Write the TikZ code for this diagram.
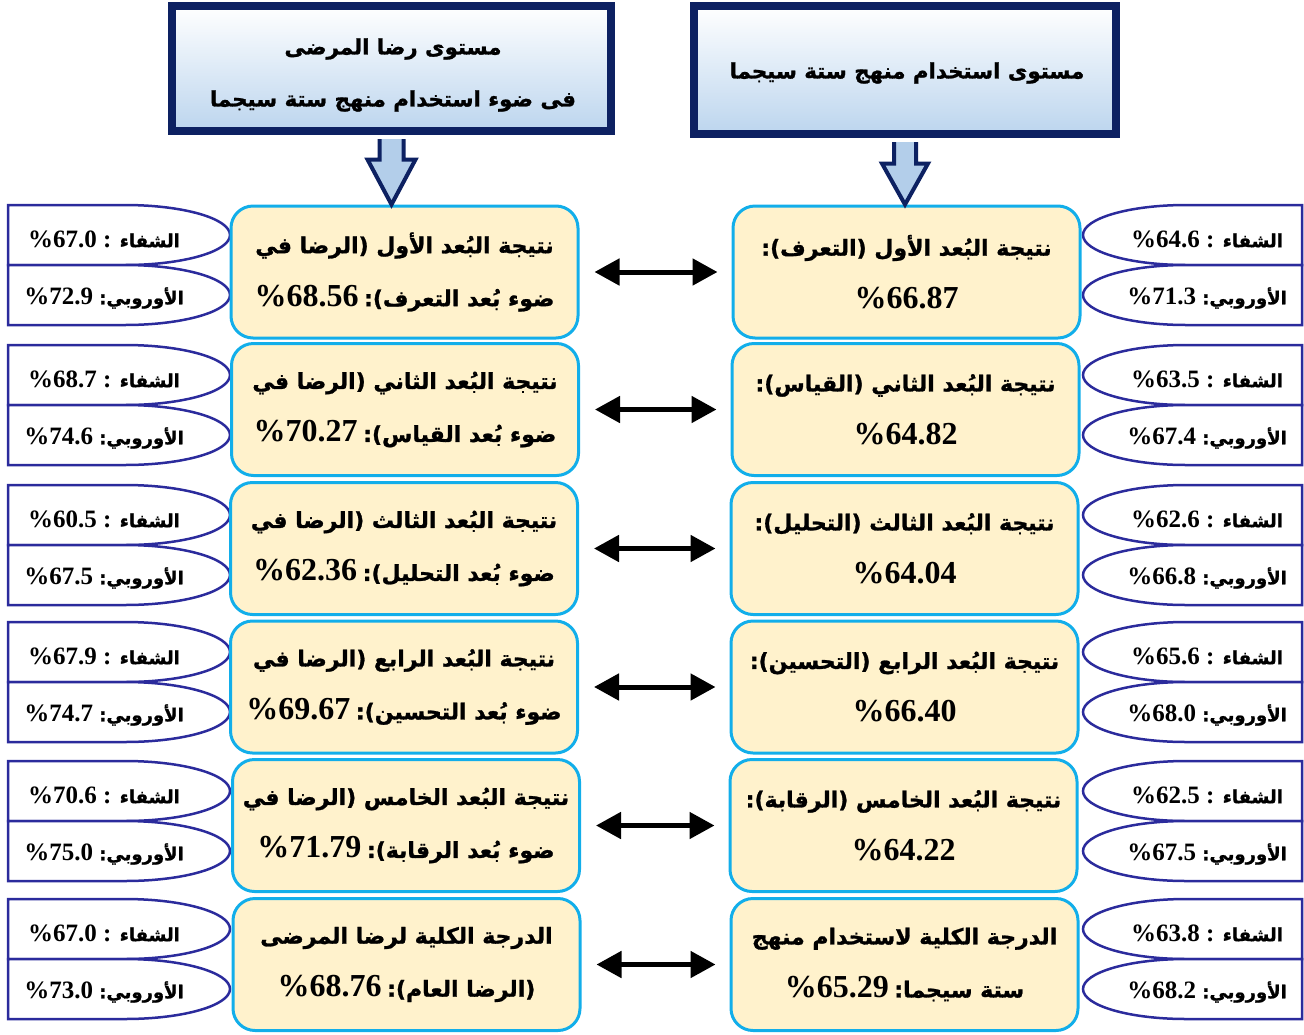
\documentclass[tikz,border=0pt]{standalone}
\usepackage{fontspec}
\setmainfont{Liberation Serif}
\newfontfamily\arfont[Script=Arabic,BoldFeatures={FakeBold=1.2}]{DejaVu Sans}
\TeXXeTstate=1
\usetikzlibrary{calc,arrows.meta}

\definecolor{boxfill}{HTML}{FFF2CC}
\definecolor{boxline}{HTML}{12AEEA}
\definecolor{sideline}{HTML}{2B2B9C}
\definecolor{navy}{HTML}{0D2162}
\definecolor{hdrblue}{HTML}{BCD5EE}
\definecolor{arrblue}{HTML}{B3CEEA}

% Arabic run, set right to left
\newcommand\AR[1]{{\arfont\bfseries\beginR #1\endR}}
% Arabic run at a given size
\newcommand\ARsz[2]{{\fontsize{#1}{#1}\selectfont\AR{#2}}}
% percentages in the main boxes
\newcommand\BIG[1]{{\fontsize{32}{52}\selectfont\bfseries #1}}

\tikzset{
  mainbox/.style={draw=boxline, line width=3pt, fill=boxfill, rounded corners=22pt,
    minimum width=347pt, minimum height=132pt, align=center, inner sep=0pt,
    font=\fontsize{22}{53}\selectfont\bfseries},
  hdr/.style={draw=navy, line width=8pt, top color=white, bottom color=hdrblue, inner sep=0pt},
  hdrtext/.style={align=center, inner sep=0pt, font=\fontsize{21.3}{52}\selectfont},
  hdrarrow/.style={draw=navy, line width=4pt, fill=arrblue, line join=miter},
  sideshape/.style={draw=sideline, line width=2.5pt, fill=white},
  sidetext/.style={inner sep=0pt, font=\fontsize{25}{25}\selectfont\bfseries},
  dbl/.style={{Triangle[length=25pt,width=26pt]}-{Triangle[length=25pt,width=26pt]},
    line width=5pt, shorten <=15pt, shorten >=14pt},
}

% two stacked value tags on the left edge: centre y, name, upper value, lower value
\newcommand\leftpair[4]{%
  \draw[sideshape] (8,#1-60) -- (125,#1-60)
     arc[start angle=-90,end angle=90,x radius=105,y radius=30] -- (8,#1) -- cycle;
  \draw[sideshape] (8,#1) -- (125,#1)
     arc[start angle=-90,end angle=90,x radius=105,y radius=30] -- (8,#1+60) -- cycle;
  \node[sidetext] (#2a) at (104,#1-26) {\%#3 : \ARsz{18}{الشفاء}};
  \node[sidetext] (#2b) at (104,#1+33) {\%#4 \ARsz{18}{الأوروبي:}};
}
% the same on the right edge
\newcommand\rightpair[4]{%
  \draw[sideshape] (1302,#1-60) -- (1186,#1-60)
     arc[start angle=-90,end angle=-270,x radius=103,y radius=30] -- (1302,#1) -- cycle;
  \draw[sideshape] (1302,#1) -- (1186,#1)
     arc[start angle=-90,end angle=-270,x radius=103,y radius=30] -- (1302,#1+60) -- cycle;
  \node[sidetext] (#2a) at (1207,#1-26) {\%#3 : \ARsz{18}{الشفاء}};
  \node[sidetext] (#2b) at (1207,#1+33) {\%#4 \ARsz{18}{الأوروبي:}};
}

\begin{document}
\begin{tikzpicture}[x=1pt,y=-1pt]
\useasboundingbox (0,0) rectangle (1304,1034);

% headers
\node[hdr, minimum width=439pt, minimum height=125pt] (hL) at (391.5,68.5) {};
\node[hdrtext] (hLtext) at (393,75)
  {\AR{مستوى رضا المرضى}\\\AR{فى ضوء استخدام منهج ستة سيجما}};
\node[hdr, minimum width=422pt, minimum height=128pt] (hR) at (905,70) {};
\node[hdrtext] (hRtext) at (907,73) {\AR{مستوى استخدام منهج ستة سيجما}};

% side tags
\leftpair{265}{lA}{67.0}{72.9}
\leftpair{405}{lB}{68.7}{74.6}
\leftpair{545}{lC}{60.5}{67.5}
\leftpair{682}{lD}{67.9}{74.7}
\leftpair{821}{lE}{70.6}{75.0}
\leftpair{959}{lF}{67.0}{73.0}
\rightpair{265}{rA}{64.6}{71.3}
\rightpair{405}{rB}{63.5}{67.4}
\rightpair{545}{rC}{62.6}{66.8}
\rightpair{682}{rD}{65.6}{68.0}
\rightpair{821}{rE}{62.5}{67.5}
\rightpair{959}{rF}{63.8}{68.2}

% satisfaction column
\node[mainbox] (L1) at (404.5,272)
  {\AR{نتيجة البُعد الأول (الرضا في}\\\BIG{\%68.56} \AR{ضوء بُعد التعرف):}};
\node[mainbox] (L2) at (405,409.5)
  {\AR{نتيجة البُعد الثاني (الرضا في}\\\BIG{\%70.27} \AR{ضوء بُعد القياس):}};
\node[mainbox] (L3) at (404,548.5)
  {\AR{نتيجة البُعد الثالث (الرضا في}\\\BIG{\%62.36} \AR{ضوء بُعد التحليل):}};
\node[mainbox] (L4) at (404,687)
  {\AR{نتيجة البُعد الرابع (الرضا في}\\\BIG{\%69.67} \AR{ضوء بُعد التحسين):}};
\node[mainbox] (L5) at (406,825.5)
  {\AR{نتيجة البُعد الخامس (الرضا في}\\\BIG{\%71.79} \AR{ضوء بُعد الرقابة):}};
\node[mainbox] (L6) at (406.5,964.5)
  {\AR{الدرجة الكلية لرضا المرضى}\\\BIG{\%68.76} \AR{(الرضا العام):}};

% six sigma column
\node[mainbox] (R1) at (906.5,272)
  {\AR{نتيجة البُعد الأول (التعرف):}\\\BIG{\%66.87}};
\node[mainbox] (R2) at (905.5,409.5)
  {\AR{نتيجة البُعد الثاني (القياس):}\\\BIG{\%64.82}};
\node[mainbox] (R3) at (904.5,548.5)
  {\AR{نتيجة البُعد الثالث (التحليل):}\\\BIG{\%64.04}};
\node[mainbox] (R4) at (904.5,687)
  {\AR{نتيجة البُعد الرابع (التحسين):}\\\BIG{\%66.40}};
\node[mainbox] (R5) at (903.5,825.5)
  {\AR{نتيجة البُعد الخامس (الرقابة):}\\\BIG{\%64.22}};
\node[mainbox] (R6) at (904.5,964.5)
  {\AR{الدرجة الكلية لاستخدام منهج}\\\BIG{\%65.29} \AR{ستة سيجما:}};

% block arrows from the headers
\coordinate (tL) at (hL.south |- L1.north);
\coordinate (tR) at (hR.south |- R1.north);
\filldraw[hdrarrow] ($(hL.south)+(-12,4)$) -- ($(tL)+(-12,-45)$) -- ($(tL)+(-24,-45)$)
  -- (tL) -- ($(tL)+(24,-45)$) -- ($(tL)+(12,-45)$) -- ($(hL.south)+(12,4)$);
\filldraw[hdrarrow] ($(hR.south)+(-11,4)$) -- ($(tR)+(-11,-41)$) -- ($(tR)+(-23,-41)$)
  -- (tR) -- ($(tR)+(23,-41)$) -- ($(tR)+(11,-41)$) -- ($(hR.south)+(11,4)$);

% links between the two columns
\foreach \i in {1,...,6} \draw[dbl] (L\i.east) -- (R\i.west);
\end{tikzpicture}
\end{document}
